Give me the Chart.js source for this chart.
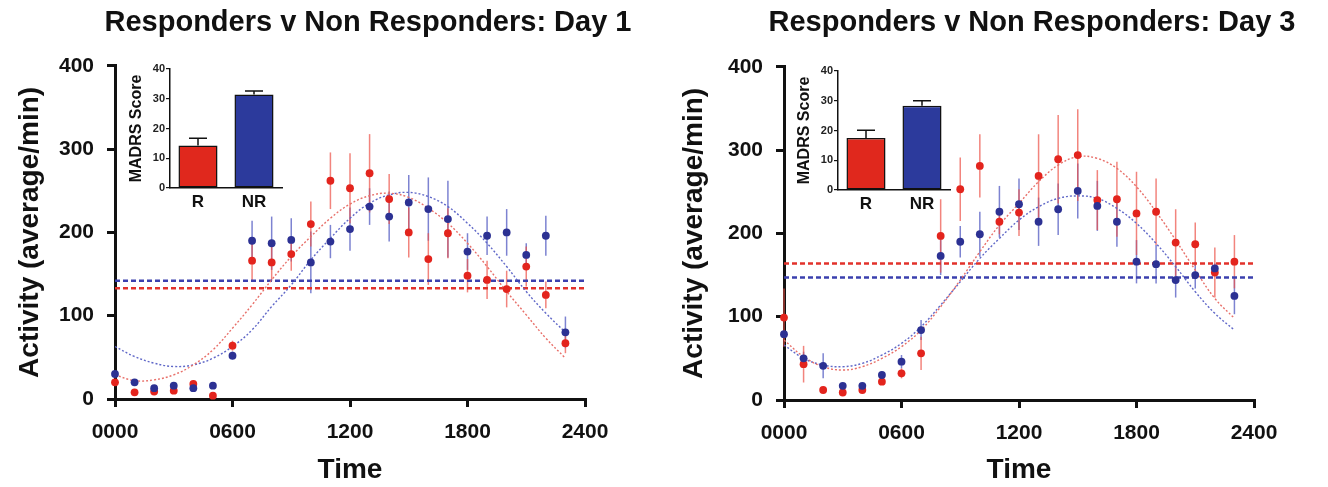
<!DOCTYPE html>
<html>
<head>
<meta charset="utf-8">
<script src="https://cdn.jsdelivr.net/npm/chart.js@4.4.1/dist/chart.umd.min.js"></script>
<style>
  body { margin: 0; background: #fff; overflow: hidden; }
  #wrap { position: relative; width: 1328px; height: 487px; overflow: hidden; }
  canvas { position: absolute; }
</style>
</head>
<body>
<div id="wrap">
  <canvas id="day1" width="736" height="487" style="left:0;top:0"></canvas>
  <canvas id="day3" width="736" height="487" style="left:664px;top:0"></canvas>
  <canvas id="inset1" width="175" height="160" style="left:120px;top:55px"></canvas>
  <canvas id="inset3" width="175" height="160" style="left:788px;top:57px"></canvas>
</div>
<script>
// hourly sample times and axis labels
const hours = [0, 1, 2, 3, 4, 5, 6, 7, 8, 9, 10, 11, 12, 13, 14, 15, 16, 17, 18, 19, 20, 21, 22, 23];
const timeLabels = ["0000", "0600", "1200", "1800", "2400"];
const mesorX = [0, 24];

// Day 1 - responders (red) and non responders (blue)
const d1RespMean = [20, 8, 9, 10, 18, 4, 64, 166, 164, 174, 210, 262, 253, 271, 240, 200, 168, 199, 148, 143, 132, 159, 125, 67];
const d1RespErr = [3, 3, 2, 2, 3, 2, 6, 24, 22, 20, 27, 34, 42, 47, 30, 30, 31, 30, 20, 23, 22, 24, 16, 12];
const d1NonMean = [30, 20, 13, 16, 13, 16, 52, 190, 187, 191, 164, 189, 204, 231, 219, 236, 228, 216, 177, 196, 200, 173, 196, 80];
const d1NonErr = [4, 3, 3, 3, 3, 3, 5, 24, 32, 26, 37, 20, 26, 22, 30, 33, 38, 46, 22, 23, 28, 14, 24, 19];
const d1RespFit = [29, 22, 23, 29, 41, 59, 85, 113, 143, 171, 195, 217, 234, 244, 247, 242, 229, 211, 187, 159, 129, 101, 73, 49];
const d1NonFit = [63, 51, 43, 39, 41, 49, 63, 83, 111, 137, 167, 193, 217, 235, 245, 248, 243, 231, 211, 187, 159, 129, 103, 80];
const d1RespMesor = 133;
const d1NonMesor = 142;

// Day 3
const d3RespMean = [99, 43, 12, 9, 12, 22, 32, 56, 197, 253, 281, 214, 225, 269, 289, 294, 240, 241, 224, 226, 189, 187, 153, 166];
const d3RespErr = [35, 22, 3, 3, 3, 4, 6, 20, 44, 38, 38, 15, 28, 50, 53, 55, 36, 45, 50, 40, 40, 26, 30, 32];
const d3NonMean = [79, 50, 41, 17, 17, 30, 46, 84, 173, 190, 199, 226, 235, 214, 229, 251, 233, 214, 166, 163, 144, 150, 158, 125];
const d3NonErr = [5, 8, 15, 3, 3, 4, 8, 12, 23, 19, 27, 31, 31, 29, 31, 33, 30, 30, 26, 23, 21, 16, 6, 22];
const d3RespFit = [72, 52, 40, 36, 40, 50, 64, 84, 112, 144, 178, 210, 236, 262, 282, 292, 290, 278, 256, 226, 192, 156, 122, 98];
const d3NonFit = [66, 50, 42, 40, 44, 54, 68, 88, 114, 142, 170, 194, 216, 232, 242, 245, 242, 230, 212, 188, 160, 130, 104, 84];
const d3RespMesor = 164;
const d3NonMesor = 147;

// inset bar charts (MADRS score)
const madrsGroups = ["R", "NR"];
const d1Madrs = [14.3, 31.4];
const d1MadrsErr = [2.4, 1.2];
const d3Madrs = [17.5, 28.3];
const d3MadrsErr = [2.6, 1.7];

const RED = "#e3241d";
const BLUE = "#2c3193";
const INK = "#111";
const FONT = "'Liberation Sans', Arial, sans-serif";

const toPoints = (xs, ys) => xs.map((x, i) => ({ x: x, y: ys[i] }));
const flat = (v) => mesorX.map((x) => ({ x: x, y: v }));

// vertical SEM lines under the points
const errorBars = {
  id: "errorBars",
  beforeDatasetsDraw(chart) {
    const { ctx } = chart;
    const x = chart.scales.x;
    const y = chart.scales.y;
    ctx.save();
    ctx.lineWidth = 1.5;
    chart.data.datasets.forEach((ds) => {
      if (!ds.errors) return;
      ctx.strokeStyle = ds.errorColor;
      ds.data.forEach((p, i) => {
        const px = x.getPixelForValue(p.x);
        ctx.beginPath();
        ctx.moveTo(px, y.getPixelForValue(Math.max(0, p.y - ds.errors[i])));
        ctx.lineTo(px, y.getPixelForValue(p.y + ds.errors[i]));
        ctx.stroke();
      });
    });
    ctx.restore();
  },
};

// error caps on top of the inset bars
const barCaps = {
  id: "barCaps",
  afterDatasetsDraw(chart) {
    const { ctx } = chart;
    const ds = chart.data.datasets[0];
    const meta = chart.getDatasetMeta(0);
    const y = chart.scales.y;
    ctx.save();
    ctx.strokeStyle = INK;
    ctx.lineWidth = 1.5;
    meta.data.forEach((bar, i) => {
      const top = y.getPixelForValue(ds.data[i] + ds.errors[i]);
      ctx.beginPath();
      ctx.moveTo(bar.x, bar.y);
      ctx.lineTo(bar.x, top);
      ctx.moveTo(bar.x - 9, top);
      ctx.lineTo(bar.x + 9, top);
      ctx.stroke();
    });
    ctx.restore();
  },
};

function makeMain(id, title, s, layout) {
  new Chart(document.getElementById(id), {
    type: "scatter",
    data: {
      datasets: [
        { data: toPoints(hours, s.nonMean), errors: s.nonErr, errorColor: "rgba(70,78,190,0.7)",
          backgroundColor: BLUE, borderColor: BLUE, pointRadius: 3.9, borderWidth: 0, clip: false, order: 1 },
        { data: toPoints(hours, s.respMean), errors: s.respErr, errorColor: "rgba(236,80,70,0.7)",
          backgroundColor: RED, borderColor: RED, pointRadius: 3.9, borderWidth: 0, clip: false, order: 2 },
        { data: toPoints(hours, s.respFit), showLine: true, pointRadius: 0, borderColor: "#e8706a",
          borderWidth: 1.4, borderDash: [2, 2], tension: 0.4, order: 3 },
        { data: toPoints(hours, s.nonFit), showLine: true, pointRadius: 0, borderColor: "#6068c8",
          borderWidth: 1.4, borderDash: [2, 2], tension: 0.4, order: 4 },
        { data: flat(s.respMesor), showLine: true, pointRadius: 0, borderColor: "#e2322b",
          borderWidth: 2.5, borderDash: [5, 3], order: 5 },
        { data: flat(s.nonMesor), showLine: true, pointRadius: 0, borderColor: "#3b40ae",
          borderWidth: 2.5, borderDash: [5, 3], order: 6 },
      ],
    },
    options: {
      responsive: false,
      animation: false,
      plugins: {
        legend: { display: false },
        tooltip: { enabled: false },
        title: {
          display: true, text: title, color: INK,
          font: { family: FONT, size: 29, weight: "bold" },
          padding: { top: 6, bottom: layout.titleBottom },
        },
      },
      scales: {
        x: {
          type: "linear", min: 0, max: 24,
          afterFit: (sc) => { sc.height = layout.xHeight; },
          ticks: {
            stepSize: 6, autoSkip: false, maxRotation: 0, padding: 13, color: INK,
            font: { family: FONT, size: 21, weight: "bold" },
            callback: (v, i) => timeLabels[i],
          },
          grid: { drawOnChartArea: false, tickLength: 8, color: INK, lineWidth: 3 },
          border: { color: INK, width: 3 },
          title: { display: true, text: "Time", color: INK,
            font: { family: FONT, size: 28, weight: "bold" }, padding: { top: 0, bottom: 0 } },
        },
        y: {
          min: 0, max: 400,
          afterFit: (sc) => { sc.width = layout.yWidth; },
          ticks: { stepSize: 100, padding: 13, color: INK,
            font: { family: FONT, size: 21, weight: "bold" } },
          grid: { drawOnChartArea: false, tickLength: 8, color: INK, lineWidth: 3 },
          border: { color: INK, width: 3 },
          title: { display: true, text: "Activity (average/min)", color: INK,
            font: { family: FONT, size: 28, weight: "bold" }, padding: { top: 13, bottom: 0 } },
        },
        // empty right-hand gutter so the title centres like the original
        gutter: {
          axis: "y", position: "right", display: true,
          afterFit: (sc) => { sc.width = layout.padRight; },
          ticks: { display: false },
          grid: { display: false, drawTicks: false },
          border: { display: false },
        },
      },
    },
    plugins: [errorBars],
  });
}

function makeInset(id, values, errors) {
  new Chart(document.getElementById(id), {
    type: "bar",
    data: {
      labels: madrsGroups,
      datasets: [{
        data: values, errors: errors,
        backgroundColor: ["#e0281d", "#2c3a9c"],
        borderColor: INK, borderWidth: 1.5, borderSkipped: false,
        barPercentage: 0.75, categoryPercentage: 0.93,
      }],
    },
    options: {
      responsive: false,
      animation: false,
      layout: { padding: { top: 14, right: 13 } },
      plugins: { legend: { display: false }, tooltip: { enabled: false } },
      scales: {
        x: {
          afterFit: (sc) => { sc.height = 27; },
          grid: { display: false, drawTicks: false },
          border: { color: INK, width: 1.5 },
          ticks: { padding: 4, color: INK, font: { family: FONT, size: 17, weight: "bold" } },
        },
        y: {
          min: 0, max: 40,
          afterFit: (sc) => { sc.width = 50; },
          ticks: { stepSize: 10, padding: 1, color: "#222", font: { family: FONT, size: 11, weight: "bold" } },
          grid: { drawOnChartArea: false, tickLength: 4, color: INK, lineWidth: 1.2 },
          border: { color: INK, width: 1.5 },
          title: { display: true, text: "MADRS Score", color: INK,
            font: { family: FONT, size: 16, weight: "bold" }, padding: { top: 7, bottom: 0 } },
        },
      },
    },
    plugins: [barCaps],
  });
}

makeMain("day1", "Responders v Non Responders: Day 1", {
  respMean: d1RespMean, respErr: d1RespErr, nonMean: d1NonMean, nonErr: d1NonErr,
  respFit: d1RespFit, nonFit: d1NonFit, respMesor: d1RespMesor, nonMesor: d1NonMesor,
}, { padRight: 151, yWidth: 115, xHeight: 88, titleBottom: 25 });

makeMain("day3", "Responders v Non Responders: Day 3", {
  respMean: d3RespMean, respErr: d3RespErr, nonMean: d3NonMean, nonErr: d3NonErr,
  respFit: d3RespFit, nonFit: d3NonFit, respMesor: d3RespMesor, nonMesor: d3NonMesor,
}, { padRight: 146, yWidth: 120, xHeight: 87, titleBottom: 26 });

makeInset("inset1", d1Madrs, d1MadrsErr);
makeInset("inset3", d3Madrs, d3MadrsErr);
</script>
</body>
</html>
